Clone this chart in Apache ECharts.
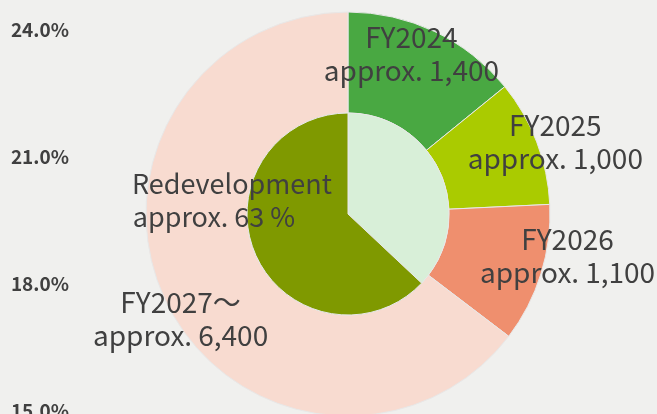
<!DOCTYPE html>
<html>
<head>
<meta charset="utf-8">
<script src="https://cdn.jsdelivr.net/npm/echarts@6/dist/echarts.min.js"></script>
<style>
  html, body { margin: 0; padding: 0; background: #f0f0ee; }
  #chart { width: 657px; height: 414px; }
</style>
</head>
<body>
<div id="chart"></div>
<script>
// --- Data ---
const periodNames = ["FY2024", "FY2025", "FY2026", "FY2027～"];
const periodValues = [1400, 1000, 1100, 6400];
const periodLabels = ["approx. 1,400", "approx. 1,000", "approx. 1,100", "approx. 6,400"];

const shareNames = ["Other", "Redevelopment"];
const shareValues = [37, 63];

const yTicks = [15, 18, 21, 24];

// --- Styling ---
const FONT = "'Noto Sans CJK JP', 'Noto Sans', sans-serif";
const TEXT = "#404040";
const periodColors = ["#49a842", "#aacb00", "#ef8f6e", "#f8dbd0"];
const shareColors = ["#d8efd8", "#7f9900"];
// manual label nudges (labels were hand-placed in the original)
const periodLabelOffsets = [[-3, -21], [63, -17], [72, -4], [-29, 36]];

const center = ["348px", "214px"];

const chart = echarts.init(document.getElementById("chart"), null, { renderer: "canvas" });

chart.setOption({
  backgroundColor: "#f0f0ee",
  animation: false,
  textStyle: { fontFamily: FONT },
  grid: { left: 77, right: 20, top: 30, bottom: 3, outerBoundsMode: "none" },
  xAxis: { type: "category", show: false, data: [""] },
  yAxis: {
    type: "value",
    min: yTicks[0],
    max: yTicks[yTicks.length - 1],
    interval: yTicks[1] - yTicks[0],
    axisLine: { show: false },
    axisTick: { show: false },
    splitLine: { show: false },
    axisLabel: {
      color: TEXT,
      fontFamily: FONT,
      fontWeight: "bold",
      fontSize: 19,
      margin: 8,
      formatter: (v) => v.toFixed(1) + "%",
    },
  },
  series: [
    {
      type: "pie",
      center,
      radius: ["101px", "202px"],
      startAngle: 90,
      clockwise: true,
      silent: true,
      itemStyle: { borderColor: "#e8e8e8", borderWidth: 1 },
      label: {
        show: true,
        position: "inside",
        color: TEXT,
        fontFamily: FONT,
        fontSize: 28,
        lineHeight: 33,
        formatter: (p) => p.name + "\n" + periodLabels[p.dataIndex],
      },
      labelLine: { show: false },
      data: periodNames.map((n, i) => ({
        name: n,
        value: periodValues[i],
        itemStyle: { color: periodColors[i] },
        label: { offset: periodLabelOffsets[i] },
      })),
    },
    {
      type: "pie",
      center,
      radius: [0, "101px"],
      startAngle: 90,
      clockwise: true,
      silent: true,
      itemStyle: { borderColor: "#e8e8e8", borderWidth: 1 },
      label: { show: false },
      labelLine: { show: false },
      data: shareNames.map((n, i) => ({
        name: n,
        value: shareValues[i],
        itemStyle: { color: shareColors[i] },
        label: n === "Redevelopment"
          ? {
              show: true,
              position: "inside",
              color: TEXT,
              fontFamily: FONT,
              offset: [-67, -35],
              formatter: "{a|Redevelopment}\n{b|approx. " + shareValues[i] + " %}",
              rich: {
                a: { color: TEXT, fontFamily: FONT, fontSize: 27, lineHeight: 33 },
                b: { color: TEXT, fontFamily: FONT, fontSize: 27, lineHeight: 33, padding: [0, 36, 0, 0] },
              },
            }
          : { show: false },
      })),
    },
  ],
});
</script>
</body>
</html>
